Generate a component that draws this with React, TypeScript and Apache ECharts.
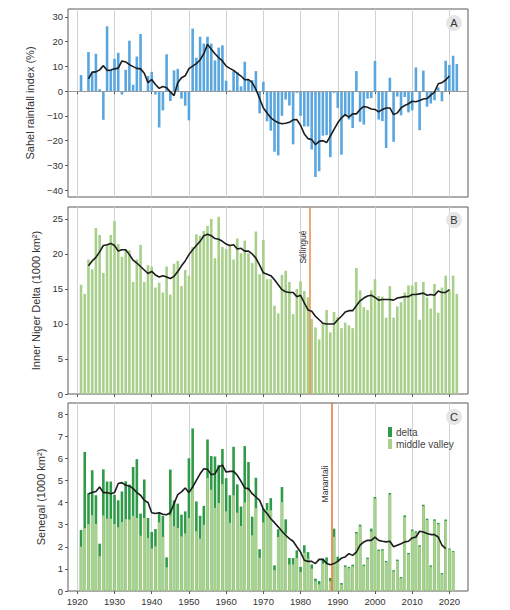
import React, { useEffect, useRef } from 'react';
import * as echarts from 'echarts';

// ---------- data ----------
const firstYear = 1921;
const decadeTicks = [1920, 1930, 1940, 1950, 1960, 1970, 1980, 1990, 2000, 2010, 2020];

// Panel A: Sahel rainfall index (%), 1921-2022
const sahelIndex = [
  6.5, -0.4, 15.8, 7.8, 15.1, 0.8, -11.6, 26.2, 8.5, 13.1,
  15.5, -1.4, 8.6, 20.4, 2.6, 14.0, 23.1, -0.3, 6.1, 7.8,
  -1.4, -14.7, -7.8, 14.9, -4.0, 8.4, 9.0, -3.0, -5.9, -11.8,
  25.3, 13.5, 22.0, 19.2, 22.0, 19.2, 12.4, 17.6, 18.5, 4.2,
  0.3, 8.1, 7.7, 1.9, 11.9, 4.7, 4.5, 8.1, -9.0, 3.8,
  -12.2, -16.0, -24.5, -26.0, -10.0, -3.4, -5.8, -21.5, -0.7, -10.0,
  -14.3, -14.3, -23.6, -34.7, -32.4, -18.0, -17.8, -26.7, -0.7, -6.8,
  -25.7, -10.1, -11.5, -14.9, 8.1, -12.4, -13.5, -3.0, -2.8, 12.2,
  -11.5, -12.1, -23.0, 5.4, -20.5, -2.2, -9.8, -2.4, -8.6, -7.8,
  9.6, -15.8, 8.3, -6.3, -5.0, -3.7, 1.5, -4.1, 12.3, 10.6,
  14.3, 11.0,
];
// running mean drawn on panel A, 1923-2020
const sahelMeanStart = 1923;
const sahelMean = [
  5.0, 7.7, 7.8, 8.6, 10.3, 8.4, 8.5, 9.0, 9.3, 12.2,
  11.8, 10.7, 9.9, 9.2, 9.0, 7.2, 3.4, 4.7, 2.7, 1.1,
  1.9, 1.4, -0.3, -1.8, 3.4, 5.4, 6.2, 9.1, 10.1, 11.1,
  12.6, 15.1, 18.9, 16.9, 15.1, 13.5, 12.2, 10.1, 9.2, 8.4,
  7.2, 6.1, 4.6, 4.7, 3.4, 0.7, -3.0, -6.8, -8.8, -10.8,
  -11.9, -12.8, -13.2, -13.0, -12.6, -11.6, -11.5, -13.8, -17.3, -19.2,
  -19.6, -21.6, -20.3, -20.0, -20.8, -18.2, -15.5, -12.8, -10.8, -9.5,
  -10.5, -9.2, -9.2, -7.4, -6.2, -6.5, -7.2, -7.4, -8.4, -7.4,
  -6.8, -6.8, -9.5, -8.8, -6.8, -5.8, -5.1, -4.1, -4.3, -3.8,
  -3.2, -3.0, -1.6, -0.4, 3.0, 3.4, 4.5, 6.1,
];

// Panel B: Inner Niger Delta flooded area (1000 km²), 1921-2022
const nigerArea = [
  15.6, 14.3, 19.2, 17.8, 23.7, 22.7, 17.3, 21.3, 22.7, 24.7,
  21.4, 19.6, 20.6, 20.5, 16.0, 19.2, 21.3, 16.0, 18.4, 18.2,
  15.2, 15.9, 14.5, 18.2, 14.2, 18.6, 19.0, 15.4, 17.7, 16.9,
  21.0, 22.8, 22.6, 23.3, 24.0, 25.0, 19.4, 25.3, 21.0, 20.7,
  21.2, 19.2, 22.2, 20.1, 21.9, 20.1, 18.7, 23.2, 17.1, 22.0,
  16.4, 16.4, 12.6, 11.5, 17.0, 17.6, 16.0, 11.4, 15.0, 16.1,
  14.7, 13.8, 10.7, 9.5, 7.8, 10.2, 12.0, 8.8, 11.7, 11.0,
  9.4, 10.2, 9.8, 9.4, 18.0, 14.8, 12.4, 12.0, 14.8, 16.4,
  14.0, 13.9, 10.9, 15.4, 10.9, 12.5, 13.1, 14.5, 15.5, 15.5,
  16.0, 10.6, 16.0, 13.8, 12.2, 15.7, 11.6, 15.2, 16.9, 14.9,
  16.9, 14.3,
];
const nigerMeanStart = 1923;
const nigerMean = [
  18.3, 19.0, 19.5, 20.3, 21.2, 21.3, 21.5, 21.2, 20.4, 20.6,
  20.6, 19.9, 19.1, 18.7, 18.2, 17.7, 17.2, 17.5, 17.0, 16.7,
  16.9, 16.7, 16.5, 16.8, 17.5, 18.3, 19.0, 19.9, 20.6, 21.2,
  21.8, 22.6, 22.8, 22.6, 22.2, 22.1, 21.8, 21.4, 21.2, 21.3,
  20.7, 20.8, 20.4, 20.4, 20.0, 19.4, 18.4, 17.3, 17.1, 16.9,
  16.3, 15.6, 14.9, 14.6, 14.5, 14.5, 13.9, 14.1, 13.0, 12.0,
  11.8, 11.1, 10.6, 10.1, 10.0, 10.0, 10.0, 10.6, 11.1, 11.7,
  11.9, 11.9, 12.6, 13.3, 13.7, 14.0, 14.1, 13.8, 13.4, 13.5,
  13.5, 13.5, 13.4, 13.7, 13.8, 13.9, 13.9, 14.2, 14.2, 14.3,
  14.4, 14.1, 14.2, 14.1, 14.7, 14.5, 14.5, 14.9,
];
const selingueYear = 1982.6;

// Panel C: Senegal flooded area (1000 km²), 1921-2021
const senegalMiddleValley = [
  2.0, 2.84, 3.02, 3.42, 3.03, 1.57, 3.42, 3.27, 3.27, 3.03,
  2.88, 3.12, 3.25, 3.23, 3.4, 3.3, 2.5, 3.3, 2.4, 1.92,
  2.02, 3.1, 2.45, 1.07, 3.42, 2.93, 2.85, 2.47, 2.6, 3.3,
  4.65, 2.7, 2.37, 3.0, 5.11, 4.58, 3.76, 3.98, 4.83, 3.6,
  3.08, 4.33, 3.54, 2.94, 4.0, 4.55, 2.52, 3.75, 1.5, 3.1,
  3.65, 3.65, 0.94, 2.44, 4.02, 2.6, 1.2, 1.2, 1.49, 0.86,
  1.73, 1.46, 1.01, 0.44, 0.3, 1.24, 1.24, 0.45, 2.45, 1.36,
  0.29, 1.09, 1.03, 1.12, 2.6, 2.93, 1.13, 1.45, 2.69, 4.18,
  1.81, 1.83, 1.3, 4.36, 0.88, 1.36, 0.57, 3.35, 1.66, 2.72,
  2.64, 2.01, 3.83, 3.21, 1.1, 3.18, 3.02, 0.75, 3.17, 1.88,
  1.77,
];
const senegalDelta = [
  0.76, 3.45, 1.4, 2.04, 1.3, 0.57, 2.08, 1.68, 1.68, 1.32,
  1.22, 1.38, 1.71, 1.58, 2.21, 2.66, 1.0, 1.74, 0.9, 0.75,
  0.78, 0.45, 0.95, 0.45, 2.07, 1.17, 1.1, 0.98, 1.0, 2.7,
  2.7, 1.35, 1.03, 0.85, 1.74, 1.52, 2.32, 1.72, 1.59, 1.5,
  1.25, 2.19, 1.28, 0.88, 2.55, 1.28, 0.84, 1.37, 0.39, 0.63,
  0.33, 0.55, 0.22, 0.35, 0.68, 0.64, 0.29, 0.29, 0.35, 0.23,
  0.34, 0.3, 0.19, 0.12, 0.15, 0.22, 0.28, 0.14, 0.37, 0.19,
  0.07, 0.07, 0.06, 0.07, 0.07, 0.07, 0.06, 0.06, 0.13, 0.07,
  0.06, 0.06, 0.06, 0.07, 0.06, 0.06, 0.06, 0.07, 0.06, 0.06,
  0.06, 0.06, 0.07, 0.06, 0.06, 0.06, 0.06, 0.06, 0.06, 0.04,
  0.04,
];
const senegalMeanStart = 1923;
const senegalMean = [
  4.4, 4.45, 4.5, 4.7, 4.45, 4.45, 4.4, 4.45, 4.86, 4.9,
  4.78, 4.75, 4.63, 4.45, 4.33, 4.1, 4.0, 3.54, 3.5, 3.54,
  3.47, 3.45, 3.54, 3.95, 4.36, 4.48, 4.66, 4.45, 4.7, 5.0,
  5.3, 5.53, 5.5, 5.26, 5.3, 5.6, 5.69, 5.38, 5.41, 5.41,
  5.23, 4.96, 4.66, 4.63, 4.4, 4.25, 4.1, 3.7, 3.5, 3.27,
  3.09, 2.9, 2.7, 2.52, 2.37, 2.25, 2.0, 1.76, 1.39, 1.34,
  1.34, 1.24, 1.43, 1.43, 1.24, 1.19, 1.24, 1.34, 1.49, 1.54,
  1.69, 1.61, 1.76, 2.07, 2.22, 2.29, 2.29, 2.44, 2.29, 2.25,
  2.22, 2.25, 2.0, 2.07, 2.14, 2.22, 2.25, 2.4, 2.44, 2.7,
  2.67, 2.6, 2.55, 2.55, 2.44, 2.07, 1.92,
];
const manantaliYear = 1988.5;

const sahelTicks = [-40, -30, -20, -10, 0, 10, 20, 30];
const nigerTicks = [0, 5, 10, 15, 20, 25];
const senegalTicks = [0, 1, 2, 3, 4, 5, 6, 7, 8];

const pairs = (start: number, vals: number[]) => vals.map((v, i) => [start + i, v]);
// delta is drawn on top of the middle valley: its bar reaches middle valley + delta
const senegalTotalPairs = senegalMiddleValley.map((v, i) => [firstYear + i, +(v + senegalDelta[i]).toFixed(3)]);

const FONT = '"Liberation Sans", Arial, Helvetica, sans-serif';

export default function App() {
  const ref = useRef<HTMLDivElement>(null);
  useEffect(() => {
    if (!ref.current) return;
    const chart = echarts.init(ref.current, undefined, { renderer: 'svg' });

    const grids = [
      { left: 68, right: 42, top: 9, height: 188 },
      { left: 68, right: 42, top: 207, height: 187 },
      { left: 68, right: 42, top: 403, height: 188 },
    ].map((g) => ({ ...g, show: true, borderColor: '#5a5a5a', borderWidth: 1, backgroundColor: 'transparent' }));

    const xAxes = [0, 1, 2].map((i) => ({
      type: 'value',
      gridIndex: i,
      min: 1917.5,
      max: 2025,
      axisLine: { show: false },
      axisTick: { show: true, inside: false, length: 3, lineStyle: { color: '#5a5a5a' }, customValues: decadeTicks },
      axisLabel: {
        show: i === 2,
        customValues: decadeTicks,
        fontSize: 9.5,
        color: '#333',
        margin: 5,
        fontFamily: FONT,
        formatter: (v: number) => String(Math.round(v)),
      },
      splitLine: { show: true, lineStyle: { color: '#d2d2d2', width: 1 } },
    }));

    const yBase = (i: number, min: number, max: number, ticks: number[], name: string) => ({
      type: 'value',
      gridIndex: i,
      min,
      max,
      name,
      nameLocation: 'middle',
      nameGap: 21,
      nameRotate: 90,
      nameTextStyle: { fontSize: 11, color: '#333', fontFamily: FONT },
      axisLine: { show: false },
      axisTick: { show: true, inside: false, length: 3, lineStyle: { color: '#5a5a5a' }, customValues: ticks },
      axisLabel: {
        customValues: ticks,
        fontSize: 9.5,
        color: '#333',
        margin: 5,
        fontFamily: FONT,
        formatter: (v: number) => String(v).replace('-', '\u2212'),
      },
      splitLine: { show: false },
    });

    const yAxes = [
      yBase(0, -42.8, 33.2, sahelTicks, 'Sahel rainfall index (%)'),
      yBase(1, 0, 26.7, nigerTicks, 'Inner Niger Delta (1000 km\u00B2)'),
      yBase(2, 0, 8.5, senegalTicks, 'Senegal (1000 km\u00B2)'),
    ];

    const meanLine = (i: number, start: number, vals: number[]) => ({
      type: 'line',
      xAxisIndex: i,
      yAxisIndex: i,
      data: pairs(start, vals),
      symbol: 'none',
      showSymbol: false,
      lineStyle: { color: '#1c1c1c', width: 1.6 },
      z: 6,
      silent: true,
    });

    const vline = (year: number, color: string) => ({
      silent: true,
      symbol: 'none',
      label: { show: false },
      lineStyle: { color, width: 1.5, type: 'solid' },
      data: [{ xAxis: year }],
    });

    const option: any = {
      animation: false,
      textStyle: { fontFamily: FONT },
      grid: grids,
      xAxis: xAxes,
      yAxis: yAxes,
      legend: {
        data: ['delta', 'middle valley'],
        orient: 'vertical',
        left: 388,
        top: 427,
        padding: 0,
        itemGap: 2,
        itemWidth: 4,
        itemHeight: 10,
        icon: 'rect',
        selectedMode: false,
        textStyle: { fontSize: 10, color: '#444', fontFamily: FONT, padding: [0, 0, 0, -1] },
      },
      series: [
        {
          type: 'bar',
          name: 'sahel',
          xAxisIndex: 0,
          yAxisIndex: 0,
          data: pairs(firstYear, sahelIndex),
          barWidth: 2.6,
          itemStyle: { color: '#5aa6df' },
          silent: true,
          markLine: {
            silent: true,
            symbol: 'none',
            label: { show: false },
            lineStyle: { color: '#9a9a9a', width: 1, type: 'solid' },
            data: [{ yAxis: 0 }],
          },
        },
        meanLine(0, sahelMeanStart, sahelMean),
        {
          type: 'bar',
          name: 'niger',
          xAxisIndex: 1,
          yAxisIndex: 1,
          data: pairs(firstYear, nigerArea),
          barWidth: 2.6,
          itemStyle: { color: '#a8d08a' },
          silent: true,
          markLine: vline(selingueYear, '#ee8a4a'),
        },
        meanLine(1, nigerMeanStart, nigerMean),
        {
          type: 'bar',
          name: 'delta',
          xAxisIndex: 2,
          yAxisIndex: 2,
          data: senegalTotalPairs,
          barWidth: 2.6,
          barGap: '-100%',
          itemStyle: { color: '#2f9a47' },
          silent: true,
          markLine: vline(manantaliYear, '#ea7430'),
        },
        {
          type: 'bar',
          name: 'middle valley',
          xAxisIndex: 2,
          yAxisIndex: 2,
          data: pairs(firstYear, senegalMiddleValley),
          barWidth: 2.6,
          barGap: '-100%',
          itemStyle: { color: '#a9d18c' },
          silent: true,
        },
        meanLine(2, senegalMeanStart, senegalMean),
      ],
    };
    chart.setOption(option);

    const sx = chart.convertToPixel({ xAxisIndex: 1 }, selingueYear) as number;
    const mx = chart.convertToPixel({ xAxisIndex: 2 }, manantaliYear) as number;

    const badge = (label: string, cy: number) => [
      { type: 'circle', shape: { cx: 454, cy, r: 8 }, style: { fill: '#e6e6e6' }, z: 20 },
      {
        type: 'text',
        x: 454,
        y: cy,
        z: 21,
        style: {
          text: label,
          fill: '#333',
          fontSize: 11,
          fontFamily: FONT,
          align: 'center',
          verticalAlign: 'middle',
          textAlign: 'center',
          textVerticalAlign: 'middle',
        },
      },
    ];
    const damLabel = (text: string, x: number, y: number) => ({
      type: 'text',
      x,
      y,
      rotation: Math.PI / 2,
      z: 20,
      style: {
        text,
        fill: '#333',
        fontSize: 8.5,
        fontFamily: FONT,
        align: 'center',
        verticalAlign: 'middle',
        textAlign: 'center',
        textVerticalAlign: 'middle',
      },
    });

    chart.setOption({
      graphic: [
        ...badge('A', 23),
        ...badge('B', 220),
        ...badge('C', 417),
        damLabel('S\u00E9lingu\u00E9', sx - 7, 247),
        damLabel('Manantali', mx - 7, 484),
      ],
    });

    return () => chart.dispose();
  }, []);

  return (
    <div
      ref={ref}
      style={{ position: 'absolute', left: 0, top: 0, width: 510, height: 610, background: '#fff' }}
    />
  );
}
